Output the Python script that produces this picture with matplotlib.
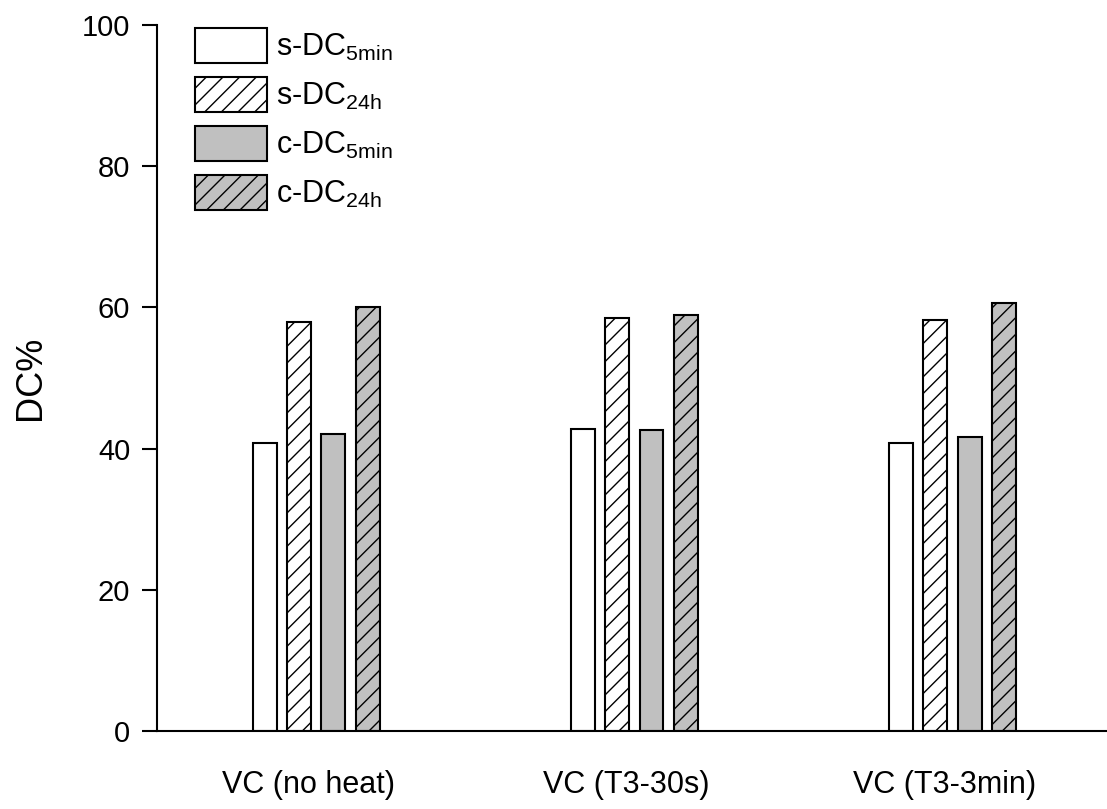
import numpy as np
import matplotlib
matplotlib.use("Agg")
import matplotlib.pyplot as plt

plt.rcParams['font.family'] = ['Liberation Sans', 'DejaVu Sans']
plt.rcParams['mathtext.default'] = 'regular'
plt.rcParams['hatch.linewidth'] = 1.0

# data
groups = ['VC (no heat)', 'VC (T3-30s)', 'VC (T3-3min)']
s_dc_5min = [40.8, 42.8, 40.8]
s_dc_24h = [58.0, 58.5, 58.2]
c_dc_5min = [42.0, 42.7, 41.6]
c_dc_24h = [60.1, 58.9, 60.6]
series_labels = ['s-DC$_{5min}$', 's-DC$_{24h}$', 'c-DC$_{5min}$', 'c-DC$_{24h}$']
yticks = [0, 20, 40, 60, 80, 100]

series = [s_dc_5min, s_dc_24h, c_dc_5min, c_dc_24h]
faces = ['white', 'white', '#c0c0c0', '#c0c0c0']
hatches = [None, '//', None, '//']

fig = plt.figure(figsize=(11.07, 8.09), dpi=100)
W, H = 1107, 809
x0, x1 = 157, 1111.7
y0, y1 = 731, 25
ax = fig.add_axes([x0 / W, 1 - y0 / H, (x1 - x0) / W, (y0 - y1) / H])

index = np.arange(len(groups))
step = 0.1078
bar_width = 0.075
for i, vals in enumerate(series):
    ax.bar(index + (i - 1.5) * step, vals, bar_width, color=faces[i],
           edgecolor='black', linewidth=1.5, hatch=hatches[i],
           label=series_labels[i])

ax.set_xlim(-0.5, 2.5)
ax.set_ylim(0, 100)
ax.set_yticks(yticks)
# labels sit a little left of the bar groups
ax.set_xticks(index - 0.025)
ax.set_xticklabels(groups, fontsize=22)
ax.tick_params(axis='x', length=0, pad=28)
ax.tick_params(axis='y', length=10.8, width=1.5, pad=8.5, labelsize=21)
for s in ['top', 'right']:
    ax.spines[s].set_visible(False)
for s in ['left', 'bottom']:
    ax.spines[s].set_linewidth(1.5)

ax.set_ylabel('DC%', fontsize=26)
ax.yaxis.set_label_coords(-0.114, 0.5)

leg_fs = 22
fs = leg_fs * 100 / 72
fig.legend(loc='upper left', bbox_to_anchor=(195 / W, 1 - 28 / H),
           bbox_transform=fig.transFigure, frameon=False, fontsize=leg_fs,
           borderpad=0, borderaxespad=0, handlelength=72 / fs,
           handleheight=(35 / fs - 0.245) / 0.65, labelspacing=14 / fs,
           handletextpad=0.3)

fig.savefig('out.png', dpi=100)
